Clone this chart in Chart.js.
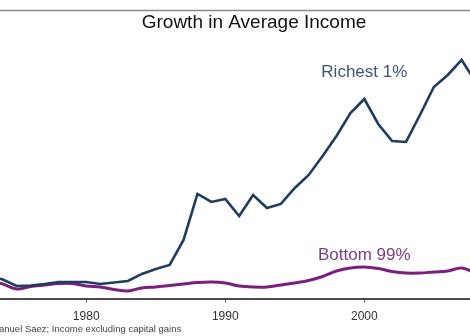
<!DOCTYPE html>
<html>
<head>
<meta charset="utf-8">
<script src="https://cdn.jsdelivr.net/npm/chart.js@4"></script>
<style>
  body { margin: 0; background: #fff; }
  canvas { display: block; }
</style>
</head>
<body>
<canvas id="incomeChart" width="470" height="336"></canvas>
<script>
// income index (1973 ~ 100)
const years = [1973, 1974, 1975, 1976, 1977, 1978, 1979, 1980, 1981, 1982, 1983, 1984, 1985,
    1986, 1987, 1988, 1989, 1990, 1991, 1992, 1993, 1994, 1995, 1996, 1997, 1998, 1999,
    2000, 2001, 2002, 2003, 2004, 2005, 2006, 2007, 2008];
const richest = [108.8, 104.4, 96.3, 96.9, 98.8, 101.3, 101.3, 101.3, 98.8, 100.6, 102.5, 111.3, 117.5,
    122.5, 153.8, 211.3, 201.3, 205, 183.8, 210, 193.8, 198.8, 218.8, 235, 258.8, 283.8, 312.5,
    330, 298.8, 277.5, 276.3, 310, 345, 360, 378.8, 351.3];
const bottom = [102.5, 98.8, 92.5, 95.6, 97.5, 99.4, 99.4, 96.3, 95, 91.9, 90, 93.8, 95,
    96.9, 98.8, 100.6, 101.3, 100, 96.3, 95, 95, 97.5, 100, 103.1, 108.1, 115, 118.8,
    120, 118.1, 114.4, 112.5, 112.5, 113.8, 115, 118.8, 112.5];
const tickYears = [1980, 1990, 2000];
const seriesNames = ['Richest 1%', 'Bottom 99%'];
const labelAnchors = [{ x: 2000, y: 363.8 }, { x: 2000, y: 135 }];

const chartTitle = 'Growth in Average Income';
const sourceNote = 'Source: Emmanuel Saez; Income excluding capital gains';
const FONT = '"Liberation Sans", Arial, sans-serif';

const extras = {
    id: 'extras',
    afterDraw(chart) {
        const ctx = chart.ctx;
        const xs = chart.scales.x, ys = chart.scales.y;
        ctx.save();
        // thin rule along the top
        ctx.strokeStyle = '#8a8a8a';
        ctx.lineWidth = 1.5;
        ctx.beginPath();
        ctx.moveTo(0, 10.5);
        ctx.lineTo(chart.width, 10.5);
        ctx.stroke();

        ctx.fillStyle = '#111';
        ctx.font = '19px ' + FONT;
        ctx.textAlign = 'center';
        ctx.textBaseline = 'alphabetic';
        ctx.fillText(chartTitle, 254, 28);

        // series labels
        ctx.font = '17px ' + FONT;
        ctx.textBaseline = 'middle';
        ctx.fillStyle = '#3e5675';
        ctx.fillText(seriesNames[0], xs.getPixelForValue(labelAnchors[0].x), ys.getPixelForValue(labelAnchors[0].y));
        ctx.fillStyle = '#7e3c86';
        ctx.fillText(seriesNames[1], xs.getPixelForValue(labelAnchors[1].x), ys.getPixelForValue(labelAnchors[1].y));

        // source note, cut at the left edge like the original
        ctx.font = '9.5px ' + FONT;
        ctx.fillStyle = '#444';
        ctx.textAlign = 'left';
        ctx.textBaseline = 'alphabetic';
        const cut = ctx.measureText('Source: Emm').width;
        ctx.fillText(sourceNote, -cut - 1, 332);
        ctx.restore();
    }
};

new Chart(document.getElementById('incomeChart'), {
    type: 'line',
    data: {
        datasets: [
            {
                label: seriesNames[0],
                data: years.map((y, i) => ({ x: y, y: richest[i] })),
                borderColor: '#1f3d5e',
                borderWidth: 2.6,
                pointRadius: 0,
                tension: 0,
            },
            {
                label: seriesNames[1],
                data: years.map((y, i) => ({ x: y, y: bottom[i] })),
                borderColor: '#7a1f7f',
                borderWidth: 3,
                pointRadius: 0,
                tension: 0.35,
            }
        ]
    },
    options: {
        responsive: false,
        animation: false,
        layout: { padding: 0 },
        plugins: {
            legend: { display: false },
            title: { display: false },
            tooltip: { enabled: false }
        },
        scales: {
            x: {
                type: 'linear',
                min: 1973.8,
                max: 2007.6,
                afterBuildTicks: scale => {
                    scale.ticks = tickYears.map(v => ({ value: v }));
                },
                afterFit: scale => { scale.height = 37; },
                border: { display: true, color: '#4d4d4d', width: 2 },
                grid: { drawOnChartArea: false, drawTicks: true, tickLength: 4, color: '#777' },
                ticks: {
                    padding: 6,
                    color: '#333',
                    font: { family: FONT, size: 12 },
                    callback: v => String(v)
                }
            },
            y: {
                display: false,
                min: 80,
                max: 453.75
            }
        }
    },
    plugins: [extras]
});
</script>
</body>
</html>
